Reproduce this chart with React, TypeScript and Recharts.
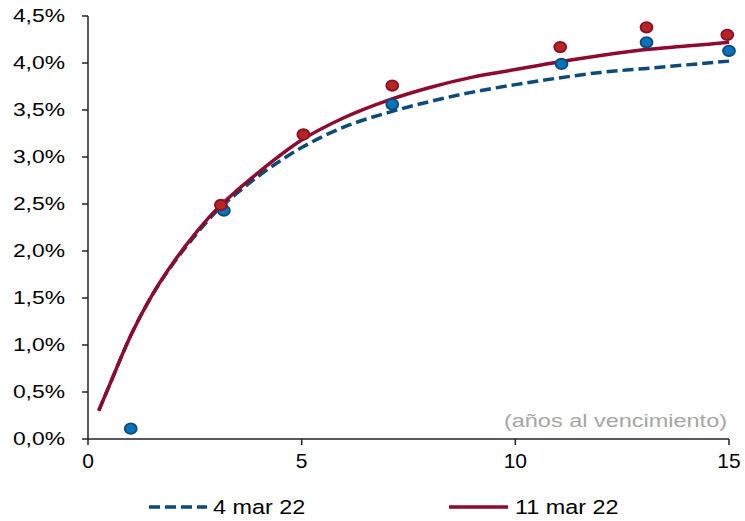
import React from "react"
import {
    ComposedChart,
    Line,
    Scatter,
    XAxis,
    YAxis,
    Legend,
    Customized,
} from "recharts"

// fitted curves (años al vencimiento vs rentabilidad, %)
const curveX = [0.25, 0.5, 1, 1.5, 2, 2.5, 3, 3.5, 4, 5, 6, 7, 8, 9, 10, 11, 12, 13, 14, 15]
const curve11Mar = [0.3, 0.57, 1.1, 1.53, 1.88, 2.18, 2.44, 2.65, 2.84, 3.18, 3.42, 3.6, 3.74, 3.85, 3.93, 4.01, 4.08, 4.14, 4.18, 4.22]
const curve4Mar = [0.3, 0.57, 1.1, 1.53, 1.87, 2.16, 2.42, 2.62, 2.8, 3.1, 3.32, 3.47, 3.59, 3.69, 3.77, 3.84, 3.9, 3.94, 3.98, 4.02]

// observed points
const obs4MarX = [1, 3.18, 7.12, 11.08, 13.07, 15]
const obs4MarY = [0.11, 2.43, 3.56, 3.99, 4.22, 4.13]
const obs11MarX = [3.11, 5.04, 7.12, 11.05, 13.07, 14.96]
const obs11MarY = [2.49, 3.24, 3.76, 4.17, 4.38, 4.3]

const yTicks = [0, 0.5, 1, 1.5, 2, 2.5, 3, 3.5, 4, 4.5]
const xTicks = [0, 5, 10, 15]
const seriesNames = ["4 mar 22", "11 mar 22"]

const RED = "#8E0B2F"
const BLUE = "#0B4A7A"
const FONT = "'Liberation Sans', Arial, sans-serif"

const curveData = curveX.map((x, i) => ({ x, red: curve11Mar[i], blue: curve4Mar[i] }))
const points4 = obs4MarX.map((x, i) => ({ x, y: obs4MarY[i] }))
const points11 = obs11MarX.map((x, i) => ({ x, y: obs11MarY[i] }))

const fmtPct = (v: number) => v.toFixed(1).replace(".", ",") + "%"

function YTick({ x, y, payload }: any) {
    return (
        <g transform={`translate(${x},${y}) scale(1.27,1)`}>
            <text textAnchor="end" dy="0.36em" fontSize={18} fontFamily={FONT} fill="#000">
                {fmtPct(payload.value)}
            </text>
        </g>
    )
}

function Dot(fill: string, stroke: string) {
    return (props: any) => (
        <ellipse cx={props.cx} cy={props.cy} rx={6} ry={5.2} fill={fill} stroke={stroke} strokeWidth={1.8} />
    )
}

function LegendBox() {
    return (
        <svg width={745} height={40} style={{ display: "block" }}>
            <line x1={149} x2={207} y1={26} y2={26} stroke={BLUE} strokeWidth={3.5} strokeDasharray="11 5" />
            <g transform="translate(213,26) scale(1.2,1)">
                <text dy="0.36em" fontSize={19.5} fontFamily={FONT} fill="#000">{seriesNames[0]}</text>
            </g>
            <line x1={449} x2={508} y1={26} y2={26} stroke={RED} strokeWidth={3.5} />
            <g transform="translate(515,26) scale(1.2,1)">
                <text dy="0.36em" fontSize={19.5} fontFamily={FONT} fill="#000">{seriesNames[1]}</text>
            </g>
        </svg>
    )
}

function Note() {
    return (
        <g transform="translate(727,427) scale(1.27,1)">
            <text textAnchor="end" fontSize={18.5} fontFamily={FONT} fill="#A6A6A6">(años al vencimiento)</text>
        </g>
    )
}

export default function App() {
    return (
        <div style={{ position: "absolute", left: 0, top: 0, width: 745, height: 521, background: "#fff" }}>
            <ComposedChart
                width={745}
                height={521}
                data={curveData}
                margin={{ top: 16, right: 16, left: 0, bottom: 0 }}
            >
                <XAxis
                    dataKey="x"
                    type="number"
                    domain={[0, 15]}
                    ticks={xTicks}
                    height={42}
                    tickSize={6}
                    tickMargin={8}
                    axisLine={{ stroke: "#222", strokeWidth: 1.5 }}
                    tickLine={{ stroke: "#222", strokeWidth: 1.5 }}
                    tick={{ fontSize: 21, fontFamily: FONT, fill: "#000" }}
                />
                <YAxis
                    type="number"
                    domain={[0, 4.5]}
                    ticks={yTicks}
                    width={88}
                    tickSize={6}
                    tickMargin={17}
                    axisLine={{ stroke: "#222", strokeWidth: 1.5 }}
                    tickLine={{ stroke: "#222", strokeWidth: 1.5 }}
                    tick={<YTick />}
                    interval={0}
                />
                <Scatter data={points4} dataKey="y" shape={Dot("#0A72BA", BLUE)} isAnimationActive={false} />
                <Scatter data={points11} dataKey="y" shape={Dot("#B5261E", RED)} isAnimationActive={false} />
                <Line
                    dataKey="blue"
                    type="monotone"
                    stroke={BLUE}
                    strokeWidth={3.5}
                    strokeDasharray="11 5"
                    dot={false}
                    activeDot={false}
                    isAnimationActive={false}
                />
                <Line
                    dataKey="red"
                    type="monotone"
                    stroke={RED}
                    strokeWidth={3.5}
                    dot={false}
                    activeDot={false}
                    isAnimationActive={false}
                />
                <Customized component={Note} />
                <Legend
                    verticalAlign="bottom"
                    content={() => <LegendBox />}
                    wrapperStyle={{ left: 0, width: 745, height: 40 }}
                />
            </ComposedChart>
        </div>
    )
}
